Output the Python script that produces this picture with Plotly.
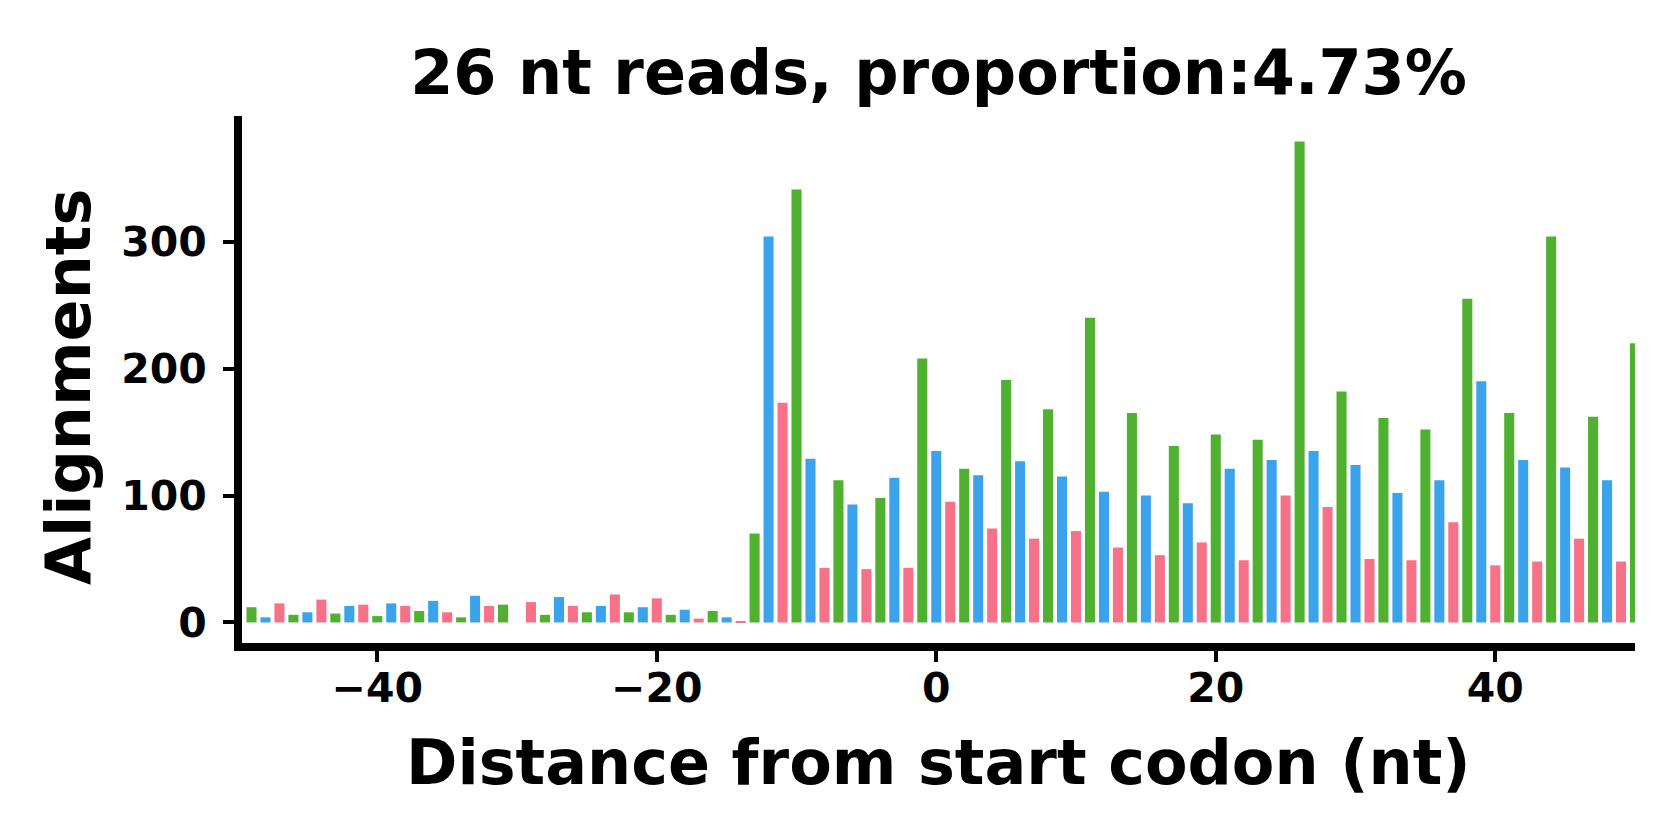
import plotly.graph_objects as go

# Data
positions = list(range(-49, 51))
counts = [
    12, 4, 15, 6, 8, 18, 7, 13, 14, 5,        # -49 .. -40
    15, 13, 9, 17, 8, 4, 21, 13, 14, 0,       # -39 .. -30
    16, 6, 20, 13, 8, 13, 22, 8, 12, 19,      # -29 .. -20
    6, 10, 3, 9, 4, 1, 70, 304, 173, 341,     # -19 .. -10
    129, 43, 112, 93, 42, 98, 114, 43, 208,   # -9 .. -1
    135, 95, 121, 116, 74, 191, 127, 66, 168, 115,   # 0 .. 9
    72, 240, 103, 59, 165, 100, 53, 139, 94, 63,     # 10 .. 19
    148, 121, 49, 144, 128, 100, 379, 135, 91, 182,  # 20 .. 29
    124, 50, 161, 102, 49, 152, 112, 79, 255, 190,   # 30 .. 39
    45, 165, 128, 48, 304, 122, 66, 162, 112, 48,    # 40 .. 49
    220,                                             # 50
]
frame_colors = {0: "#3BA3EC", 1: "#F77189", 2: "#50B131"}
title_text = "26 nt reads, proportion:4.73%"
x_label = "Distance from start codon (nt)"
y_label = "Alignments"
x_ticks = [-40, -20, 0, 20, 40]
y_ticks = [0, 100, 200, 300]

bar_colors = [frame_colors[p % 3] for p in positions]

FONT = "DejaVu Sans"
W, H = 1680, 840
L, R, T, B = 242, 45, 116, 197
PW, PH = W - L - R, H - T - B

fig = go.Figure(
    go.Bar(
        x=positions,
        y=counts,
        width=0.72,
        marker=dict(color=bar_colors, line=dict(width=0)),
    )
)

fig.update_layout(
    width=W,
    height=H,
    margin=dict(l=L, r=R, t=T, b=B, pad=0),
    paper_bgcolor="white",
    plot_bgcolor="white",
    showlegend=False,
    font=dict(family=FONT, color="black"),
    title=dict(
        text=title_text,
        x=0.5,
        xref="paper",
        xanchor="center",
        y=1 - 72 / H,
        yref="container",
        yanchor="middle",
        font=dict(family=FONT, size=62, weight="bold", color="black"),
    ),
    annotations=[
        dict(
            text=x_label, x=0.5, y=-(762 - (H - B)) / PH, xref="paper", yref="paper",
            xanchor="center", yanchor="middle", showarrow=False,
            font=dict(family=FONT, size=62, weight="bold", color="black"),
        ),
        dict(
            text=y_label, x=(69 - L) / PW, y=((H - B) - 387) / PH, xref="paper", yref="paper",
            xanchor="center", yanchor="middle", showarrow=False, textangle=-90,
            font=dict(family=FONT, size=62, weight="bold", color="black"),
        ),
    ],
)

axis_common = dict(
    showgrid=False,
    zeroline=False,
    showline=True,
    linewidth=8,
    linecolor="black",
    ticks="outside",
    ticklen=11,
    tickwidth=4,
    tickcolor="black",
    tickfont=dict(family=FONT, size=41, weight="bold", color="black"),
)

fig.update_xaxes(
    range=[-49.68, 50],
    tickvals=x_ticks,
    ticktext=[str(v).replace("-", "\u2212") for v in x_ticks],
    ticklabelstandoff=-9,
    **axis_common,
)
fig.update_yaxes(
    range=[-16.2, 399],
    tickvals=y_ticks,
    ticktext=[str(v) for v in y_ticks],
    ticklabelstandoff=8,
    **axis_common,
)

fig.write_html(
    "out.html",
    config={"displayModeBar": False},
    post_script="document.body.style.margin='0px';",
)
